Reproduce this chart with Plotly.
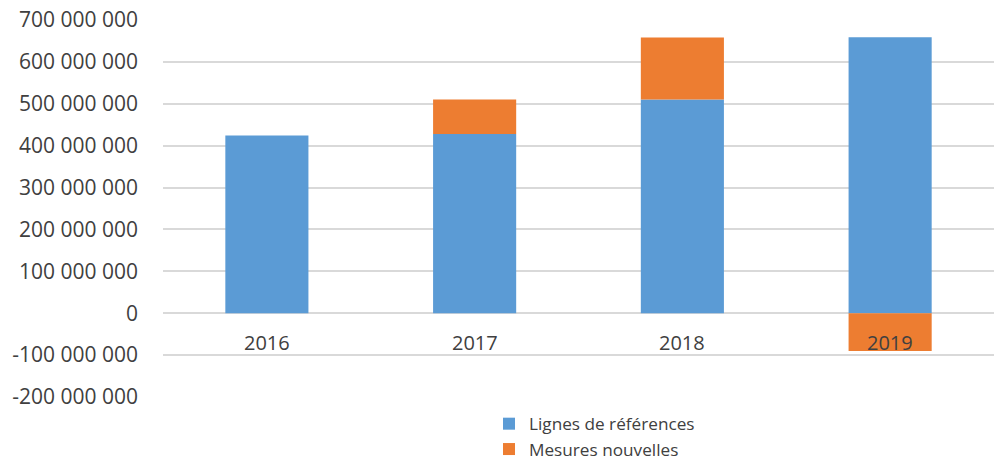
import plotly.graph_objects as go

years = ["2016", "2017", "2018", "2019"]
lignes_references = [424_000_000, 428_000_000, 510_000_000, 659_000_000]
mesures_nouvelles = [0, 82_000_000, 148_000_000, -90_000_000]
y_ticks = [-200_000_000, -100_000_000, 0, 100_000_000, 200_000_000, 300_000_000,
           400_000_000, 500_000_000, 600_000_000, 700_000_000]
y_tick_labels = ["-200 000 000", "-100 000 000", "0", "100 000 000", "200 000 000",
                 "300 000 000", "400 000 000", "500 000 000", "600 000 000", "700 000 000"]

FONT = "Open Sans"
TXT = "#404040"

fig = go.Figure()
fig.add_trace(go.Bar(x=years, y=lignes_references, name="Lignes de références",
                     marker=dict(color="#5B9BD5", line=dict(width=0))))
fig.add_trace(go.Bar(x=years, y=mesures_nouvelles, name="Mesures nouvelles",
                     marker=dict(color="#ED7D31", line=dict(width=0))))

for i, yr in enumerate(years):
    fig.add_annotation(x=i, y=0, xref="x", yref="y", text=yr, showarrow=False,
                       yanchor="top", yshift=-14,
                       font=dict(family=FONT, size=20, color=TXT))

fig.update_layout(
    barmode="relative",
    bargap=0.6,
    width=994, height=463,
    margin=dict(l=163, r=0, t=20, b=66, autoexpand=False),
    paper_bgcolor="white", plot_bgcolor="white",
    font=dict(family=FONT, color=TXT),
    legend=dict(orientation="v", x=(489 - 163) / (994 - 163), xref="paper", xanchor="left",
                yref="container", y=(463 - 406) / 463, yanchor="top",
                font=dict(family=FONT, size=17.2, color=TXT),
                itemwidth=30, tracegroupgap=0, bgcolor="rgba(0,0,0,0)"),
    showlegend=True,
)
fig.update_xaxes(type="category", range=[-0.5, 3.5], showticklabels=False,
                 showgrid=False, zeroline=False, showline=False)
fig.update_yaxes(range=[-200_000_000, 700_000_000], tickvals=y_ticks, ticktext=y_tick_labels,
                 showgrid=True, gridcolor="#D9D9D9", gridwidth=1.5,
                 zeroline=True, zerolinecolor="#D9D9D9", zerolinewidth=1.5,
                 showline=False, ticklabelstandoff=24,
                 tickfont=dict(family=FONT, size=21, color=TXT))

fig.write_html("out.html", config={"displayModeBar": False},
               post_script="document.body.style.margin='0';")
